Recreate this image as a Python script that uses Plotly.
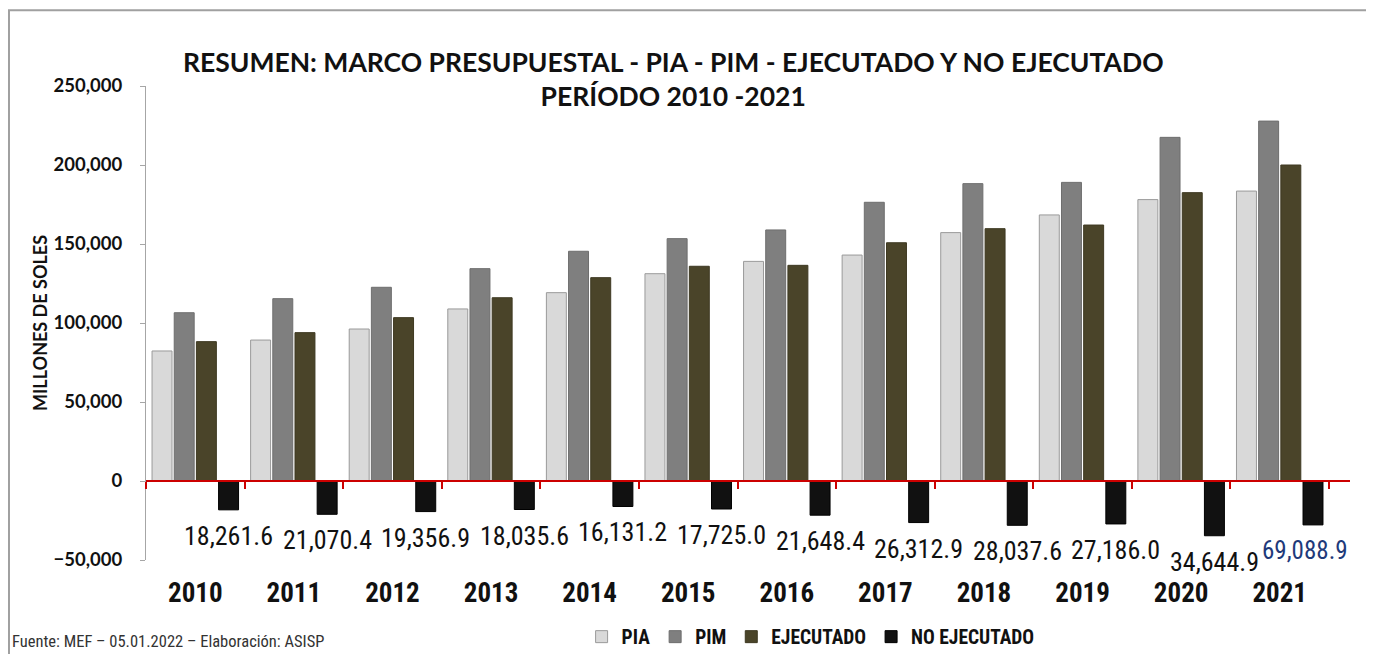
import plotly.graph_objects as go

years = ["2010", "2011", "2012", "2013", "2014", "2015", "2016", "2017", "2018", "2019", "2020", "2021"]
pia = [82300, 89200, 96200, 108900, 119200, 131200, 139000, 143000, 157200, 168400, 178100, 183500]
pim = [106500, 115400, 122600, 134400, 145400, 153400, 158900, 176400, 188200, 189000, 217500, 227800]
ejecutado = [88200, 93900, 103400, 116000, 128700, 135900, 136500, 150800, 159700, 162000, 182500, 200000]
no_ejecutado = [-18261.6, -21070.4, -19356.9, -18035.6, -16131.2, -17725.0, -21648.4, -26312.9,
                -28037.6, -27186.0, -34644.9, -27800.0]
no_ejec_labels = ["18,261.6", "21,070.4", "19,356.9", "18,035.6", "16,131.2", "17,725.0", "21,648.4",
                  "26,312.9", "28,037.6", "27,186.0", "34,644.9", "69,088.9"]
label_colors = ["#111111"] * 11 + ["#1f3a7a"]

NARROW = "Liberation Sans Narrow, Arial Narrow, Roboto Condensed, Liberation Sans, sans-serif"
CAL = "Lato, Open Sans, sans-serif"

BARGAP = 0.1
N_SERIES = 4

fig = go.Figure()
fig.add_trace(go.Bar(name="PIA", x=years, y=pia, marker=dict(color="#d9d9d9", line=dict(color="#9a9a9a", width=1))))
fig.add_trace(go.Bar(name="PIM", x=years, y=pim, marker=dict(color="#7f7f7f", line=dict(color="#6e6e6e", width=1))))
fig.add_trace(go.Bar(name="EJECUTADO", x=years, y=ejecutado, marker=dict(color="#4a4429", line=dict(color="#3e3922", width=1))))
fig.add_trace(go.Bar(name="NO EJECUTADO", x=years, y=no_ejecutado,
                     marker=dict(color="#111111", line=dict(color="#000000", width=1))))
# helper trace for the red zero axis with category-boundary ticks
fig.add_trace(go.Scatter(x=years, y=[0] * len(years), xaxis="x2", mode="none",
                         showlegend=False, hoverinfo="skip"))

# data labels under the NO EJECUTADO bars (4th bar of each group)
slot = (1 - BARGAP) / N_SERIES
offset = -(1 - BARGAP) / 2 + slot * (N_SERIES - 0.5)
annotations = []
for i, (val, lab, col) in enumerate(zip(no_ejecutado, no_ejec_labels, label_colors)):
    last = i == len(years) - 1
    annotations.append(dict(x=i + offset, y=val, xref="x", yref="y", text=lab, showarrow=False,
                            xanchor="center", yanchor="top", yshift=-9, xshift=-8 if last else 0,
                            font=dict(family=NARROW, size=25 if last else 26, color=col)))
annotations.append(dict(text="Fuente: MEF – 05.01.2022 – Elaboración: ASISP", xref="paper", yref="paper",
                        x=-0.113, y=-0.171, xanchor="left", yanchor="middle", showarrow=False,
                        font=dict(family=NARROW, size=16.5, color="#333333")))

fig.update_layout(
    width=1366, height=646,
    paper_bgcolor="white", plot_bgcolor="white",
    margin=dict(l=138, r=24, t=78, b=94, autoexpand=False),
    barmode="group", bargap=BARGAP, bargroupgap=0.1,
    title=dict(text="RESUMEN: MARCO PRESUPUESTAL - PIA - PIM - EJECUTADO Y NO EJECUTADO<br>PERÍODO 2010 -2021",
               x=0.487, xanchor="center", y=1 - 64 / 646, yanchor="top", yref="container",
               font=dict(family=CAL, size=26.5, color="#111111", weight="bold")),
    xaxis=dict(type="category", showline=False, ticks="", showgrid=False, zeroline=False, automargin=False,
               tickfont=dict(family=NARROW, size=27, color="#111111", weight="bold"),
               ticklabelstandoff=14),
    xaxis2=dict(type="category", overlaying="x", matches="x", anchor="free", position=1 / 6,
                showline=True, linecolor="#cc0000", linewidth=2, ticks="outside", tickson="boundaries",
                tickcolor="#cc0000", tickwidth=2, ticklen=7, showticklabels=False, showgrid=False,
                automargin=False),
    yaxis=dict(range=[-50000, 250000], tickvals=[-50000, 0, 50000, 100000, 150000, 200000, 250000],
               tickformat=",", showgrid=False, zeroline=False, showline=True, linecolor="#a6a6a6", linewidth=1,
               ticks="outside", ticklen=5, tickcolor="#a6a6a6", automargin=False, ticklabelstandoff=14,
               tickfont=dict(family=CAL, size=18.5, color="#111111", weight="bold"),
               title=dict(text="MILLONES DE SOLES", standoff=1,
                          font=dict(family=CAL, size=18, color="#111111", weight="bold"))),
    legend=dict(orientation="h", x=0.552, xanchor="center", y=-0.1624, yanchor="middle",
                font=dict(family=NARROW, size=19.5, color="#111111", weight="bold"),
                itemwidth=30, traceorder="normal", bgcolor="rgba(0,0,0,0)"),
    annotations=annotations,
    shapes=[dict(type="rect", xref="paper", yref="paper", x0=-0.1138, x1=1.03, y0=-0.22, y1=1.16,
                 line=dict(color="#a0a0a0", width=2), fillcolor="rgba(0,0,0,0)", layer="below")],
    showlegend=True,
)

fig.write_html("out.html")
